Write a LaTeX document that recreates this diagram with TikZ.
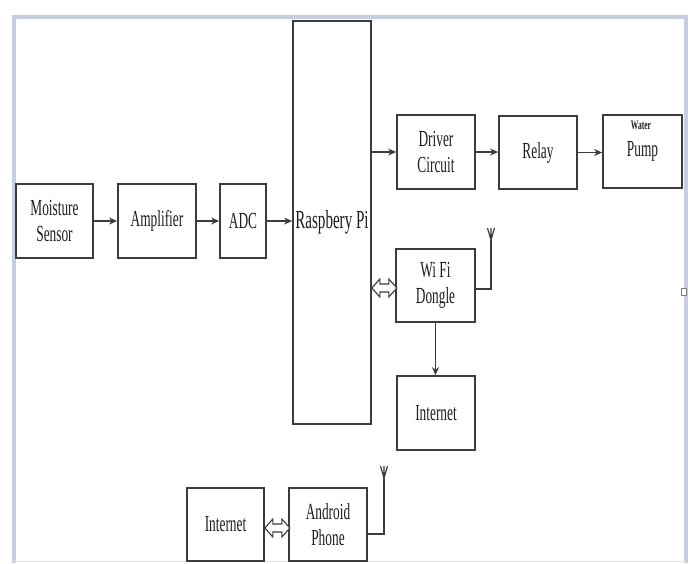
\documentclass[tikz,border=0pt]{standalone}
\usepackage{fontspec}
\setmainfont{Liberation Serif}[FakeStretch=0.58]
\usetikzlibrary{arrows.meta,calc}
\definecolor{linec}{HTML}{3C3C3C}
\definecolor{textc}{HTML}{1E1E1E}
\definecolor{framec}{HTML}{C6CEE0}
\tikzset{
  blk/.style={draw=linec, line width=1.7pt, fill=white, inner sep=0pt, align=center,
              font=\fontsize{23}{25.5}\selectfont, text=textc},
  arr/.style={draw=linec, line width=1.8pt, -{Stealth[length=8pt,width=7pt]}},
  ln/.style={draw=linec, line width=1.8pt},
  antv/.style={draw=linec, line width=1.2pt},
  dbl/.style={draw=linec, line width=1.1pt, fill=white, line join=miter},
}
\begin{document}
\begin{tikzpicture}[x=1pt,y=-1pt]
\useasboundingbox (0,0) rectangle (688,563);
\fill[white] (0,0) rectangle (688,563);
% frame
\draw[framec, line width=4pt] (13.5,563) -- (13.5,16.5) -- (685.5,16.5) -- (685.5,563);
\draw[framec!50, line width=1pt] (13.5,561.5) -- (685.5,561.5);

% blocks
\node[blk, minimum width=77pt, minimum height=74pt] (ms) at (54.5,221) {Moisture\\Sensor};
\node[blk, minimum width=78pt, minimum height=74pt] (amp) at (157,221) {Amplifier};
\node[blk, minimum width=46pt, minimum height=74pt] (adc) at (243,221) {ADC};
\node[blk, minimum width=78pt, minimum height=403pt, font=\fontsize{26}{28}\selectfont] (pi) at (332,222.5) {Raspbery Pi};
\node[blk, minimum width=78pt, minimum height=74pt] (drv) at (436,152) {Driver\\Circuit};
\node[blk, minimum width=78pt, minimum height=73pt] (rel) at (538,152.5) {Relay};
\node[blk, minimum width=79pt, minimum height=73pt] (pump) at (642.5,151.5) {Pump};
\node[font=\fontsize{13}{14}\selectfont\bfseries, text=textc, inner sep=0pt] (water) at (641,125) {Water};
\node[blk, minimum width=79pt, minimum height=73pt] (wifi) at (435.5,285.5) {Wi Fi\\Dongle};
\node[blk, minimum width=78pt, minimum height=74pt] (int1) at (436,413) {Internet};
\node[blk, minimum width=77pt, minimum height=73pt] (int2) at (225.5,524.5) {Internet};
\node[blk, minimum width=78pt, minimum height=73pt] (andr) at (328,524.5) {Android\\Phone};

% arrows
\draw[arr] (ms.east) -- (amp.west);
\draw[arr] (amp.east) -- (adc.west);
\draw[arr] (adc.east) -- (adc.east -| pi.west);
\draw[arr] (pi.east |- drv.west) -- (drv.west);
\draw[arr] (drv.east) -- (drv.east -| rel.west);
\draw[arr] (rel.east) -- (rel.east -| pump.west);
\draw[arr] (wifi.south) -- (wifi.south |- int1.north);

% antennas
\coordinate (ant1) at (491,240);
\draw[ln] ([yshift=-3.5pt]wifi.east) -| (ant1);
\draw[antv] (ant1) -- ++(-3.5,-12) (ant1) -- ++(3.5,-12) (ant1) -- ++(0,-12);
\coordinate (ant2) at (384,478);
\draw[ln] ([yshift=-9.5pt]andr.east) -| (ant2);
\draw[antv] (ant2) -- ++(-3.5,-12) (ant2) -- ++(3.5,-12) (ant2) -- ++(0,-12);

% hollow double arrows
\draw[dbl] ([yshift=-2.5pt]pi.east |- wifi.west) -- ++(8,-9) -- ++(0,5) -- ++(9,0) -- ++(0,-5)
  -- ++(8,9) -- ++(-8,9) -- ++(0,-5) -- ++(-9,0) -- ++(0,5) -- cycle;
\draw[dbl] ([yshift=-3.5pt]int2.east) -- ++(8,-9) -- ++(0,5) -- ++(9,0) -- ++(0,-5)
  -- ++(8,9) -- ++(-8,9) -- ++(0,-5) -- ++(-9,0) -- ++(0,5) -- cycle;

% small edge mark
\draw[gray, line width=0.8pt, fill=white] (681.5,288) rectangle (686,295.5);
\end{tikzpicture}
\end{document}
